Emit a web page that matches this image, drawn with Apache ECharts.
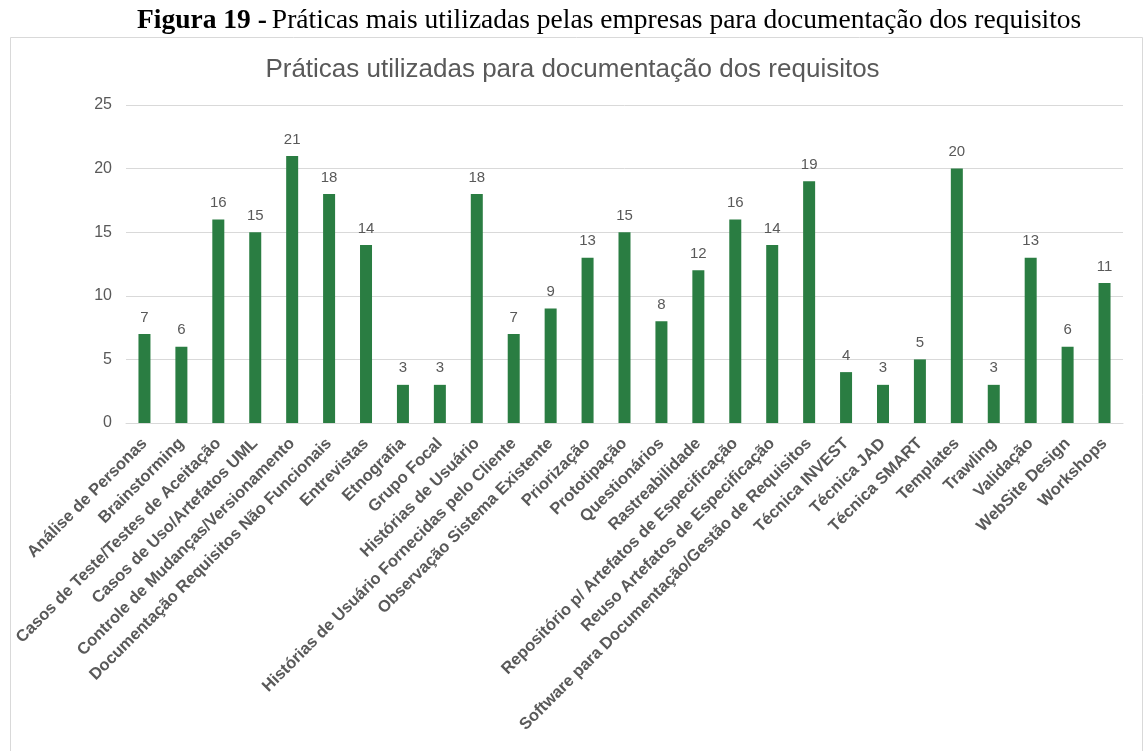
<!DOCTYPE html>
<html>
<head>
<meta charset="utf-8">
<script src="https://cdn.jsdelivr.net/npm/echarts@6/dist/echarts.min.js"></script>
<style>
  html, body { margin: 0; padding: 0; background: #fff; }
  #chart { width: 1145px; height: 751px; }
</style>
</head>
<body>
<div id="chart"></div>
<script>
var categories = [
    'Análise de Personas', 'Brainstorming', 'Casos de Teste/Testes de Aceitação',
    'Casos de Uso/Artefatos UML', 'Controle de Mudanças/Versionamento',
    'Documentação Requisitos Não Funcionais', 'Entrevistas', 'Etnografia',
    'Grupo Focal', 'Histórias de Usuário', 'Histórias de Usuário Fornecidas pelo Cliente',
    'Observação Sistema Existente', 'Priorização', 'Prototipação', 'Questionários',
    'Rastreabilidade', 'Repositório p/ Artefatos de Especificação',
    'Reuso Artefatos de Especificação', 'Software para Documentação/Gestão de Requisitos',
    'Técnica INVEST', 'Técnica JAD', 'Técnica SMART', 'Templates', 'Trawling',
    'Validação', 'WebSite Design', 'Workshops'
];
var counts = [7, 6, 16, 15, 21, 18, 14, 3, 3, 18, 7, 9, 13, 15, 8, 12, 16, 14, 19, 4, 3, 5, 20, 3, 13, 6, 11];
var yTicks = [0, 5, 10, 15, 20, 25];

var chart = echarts.init(document.getElementById('chart'));
var option = {
    animation: false,
    backgroundColor: '#fff',
    title: [{
        text: '{b|Figura 19 -} {n|Práticas mais utilizadas pelas empresas para documentação dos requisitos}',
        left: 132,
        top: 2,
        textStyle: {
            rich: {
                b: { fontFamily: 'Liberation Serif', fontWeight: 'bold', fontSize: 27.5, color: '#000' },
                n: { fontFamily: 'Liberation Serif', fontWeight: 'normal', fontSize: 27.5, color: '#000' }
            }
        }
    }, {
        text: 'Práticas utilizadas para documentação dos requisitos',
        left: 'center',
        top: 52,
        textStyle: { fontFamily: 'Liberation Sans', fontWeight: 'normal', fontSize: 26, color: '#595959' }
    }],
    graphic: [{
        type: 'rect',
        shape: { x: 10.5, y: 37.5, width: 1132, height: 720 },
        style: { fill: null, stroke: '#d9d9d9', lineWidth: 1 },
        z: -1
    }],
    grid: { left: 126, right: 22, top: 105, bottom: 328 },
    xAxis: {
        type: 'category',
        data: categories,
        axisLine: { lineStyle: { color: '#d9d9d9' } },
        axisTick: { show: false },
        axisLabel: {
            interval: 0,
            rotate: 45,
            margin: 18,
            fontFamily: 'Liberation Sans',
            fontWeight: 'bold',
            fontSize: 16.5,
            color: '#595959'
        }
    },
    yAxis: {
        type: 'value',
        min: yTicks[0],
        max: yTicks[yTicks.length - 1],
        interval: 5,
        axisLine: { show: false },
        axisTick: { show: false },
        splitLine: { lineStyle: { color: '#d9d9d9' } },
        axisLabel: { margin: 14, fontFamily: 'Liberation Sans', fontSize: 16, color: '#595959' }
    },
    series: [{
        type: 'bar',
        data: counts,
        barWidth: 12,
        itemStyle: { color: '#2a7d42' },
        label: {
            show: true,
            position: 'top',
            distance: 9,
            fontFamily: 'Liberation Sans',
            fontSize: 15,
            color: '#595959'
        }
    }]
};
chart.setOption(option);
window.onresize = function(){
    chart.resize();
};
</script>
</body>
</html>
